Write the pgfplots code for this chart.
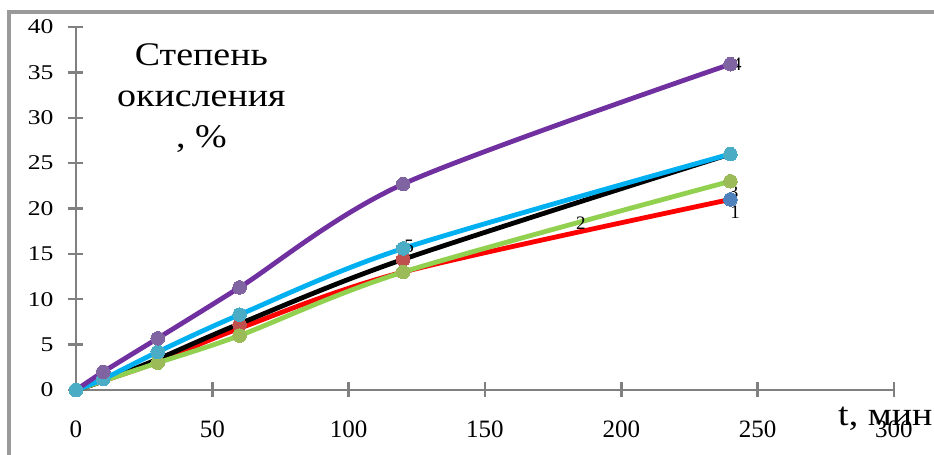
\documentclass[border=0pt]{standalone}
\usepackage{pgfplots}
\pgfplotsset{compat=1.18}
\usepackage{fontspec}
\setmainfont{Liberation Serif}
\newfontfamily\wideA[FakeStretch=1.15]{Liberation Serif}
\newfontfamily\wideB[FakeStretch=1.22]{Liberation Serif}
\definecolor{cpurple}{HTML}{7030A0}
\definecolor{mpurple}{HTML}{8064A2}
\definecolor{ccyan}{HTML}{00B0F0}
\definecolor{mcyan}{HTML}{4BACC6}
\definecolor{cred}{HTML}{FF0000}
\definecolor{mred}{HTML}{C0504D}
\definecolor{mblue}{HTML}{4F81BD}
\definecolor{cgreen}{HTML}{92D050}
\definecolor{mgreen}{HTML}{9BBB59}
\definecolor{axgray}{HTML}{808080}
\begin{document}
\begin{tikzpicture}
\path[use as bounding box] (-38pt,-32.5pt) rectangle (429pt,195pt);
\draw[axgray!80, line width=1.6pt] (-33.5pt,-40pt) -- (-33.5pt,189pt) -- (440pt,189pt);
\begin{axis}[
  at={(0,0)}, anchor=origin,
  scale only axis, width=409pt, height=181.5pt,
  xmin=0, xmax=300, ymin=0, ymax=40,
  axis lines=left,
  axis line style={axgray, line width=1.4pt, -},
  tick style={axgray, line width=1.2pt},
  tick align=center,
  major tick length=7.5pt,
  xtick={0,50,...,300}, ytick={0,5,...,40},
  /pgf/number format/assume math mode=true,
  xticklabel style={font=\fontsize{12.5}{14}\selectfont, yshift=-8pt},
  yticklabel style={font=\wideB\fontsize{10.5}{12}\selectfont, xshift=-4pt},
  clip=false,
  every axis plot/.append style={line width=2.4pt},
]
% lines
\addplot[cred, smooth, no markers] coordinates {(0,0) (10,1.0) (30,3.1) (60,6.8) (120,13.0) (240,21.0)};
\addplot[black, smooth, no markers] coordinates {(0,0) (10,1.0) (30,3.4) (60,7.3) (120,14.4) (240,26.0)};
\addplot[cgreen, smooth, no markers] coordinates {(0,0) (10,1.0) (30,3.0) (60,6.0) (120,13.0) (240,23.0)};
\addplot[ccyan, smooth, no markers] coordinates {(0,0) (10,1.2) (30,4.2) (60,8.3) (120,15.6) (240,26.0)};
\addplot[cpurple, smooth, no markers] coordinates {(0,0) (10,2.0) (30,5.7) (60,11.3) (120,22.7) (240,35.9)};
% markers
\addplot[only marks, mark=*, mark size=3.4pt, mblue, mark options={draw=mblue, fill=mblue, line width=0pt}] coordinates {(240,21.0)};
\addplot[only marks, mark=*, mark size=3.4pt, mred, mark options={draw=mred, fill=mred, line width=0pt}] coordinates {(60,7.2) (120,14.4)};
\addplot[only marks, mark=*, mark size=3.4pt, mgreen, mark options={draw=mgreen, fill=mgreen, line width=0pt}] coordinates {(30,3.0) (60,6.0) (120,13.0) (240,23.0)};
\addplot[only marks, mark=*, mark size=3.4pt, mcyan, mark options={draw=mcyan, fill=mcyan, line width=0pt}] coordinates {(0,0) (10,1.2) (30,4.2) (60,8.3) (120,15.6) (240,26.0)};
\addplot[only marks, mark=*, mark size=3.4pt, mpurple, mark options={draw=mpurple, fill=mpurple, line width=0pt}] coordinates {(10,2.0) (30,5.7) (60,11.3) (120,22.7) (240,35.9)};
\addplot[only marks, mark=*, mark size=3.4pt, mcyan, mark options={draw=mcyan, fill=mcyan, line width=0pt}] coordinates {(0,0)};
% labels
\node[font=\wideA\fontsize{16.5}{20}\selectfont, anchor=base] at (axis cs:46,35.8) {Степень};
\node[font=\wideA\fontsize{16.5}{20}\selectfont, anchor=base] at (axis cs:46,31.2) {окисления};
\node[font=\wideA\fontsize{16.5}{20}\selectfont, anchor=base] at (axis cs:46,26.7) {, \%};
\node[font=\wideA\fontsize{16.5}{20}\selectfont, anchor=base west, inner sep=0pt] at (axis cs:279.4,-3.9) {t, мин};
\node[font=\fontsize{9.5}{11}\selectfont, inner sep=0pt] at (axis cs:242.4,35.9) {4};
\node[font=\fontsize{9.5}{11}\selectfont, inner sep=0pt] at (axis cs:122.2,15.8) {5};
\node[font=\fontsize{9.5}{11}\selectfont, inner sep=0pt] at (axis cs:241.2,21.8) {3};
\node[font=\fontsize{9.5}{11}\selectfont, inner sep=0pt] at (axis cs:241.7,19.6) {1};
\node[font=\fontsize{9.5}{11}\selectfont, inner sep=0pt] at (axis cs:185.2,18.4) {2};
\end{axis}
\end{tikzpicture}
\end{document}
